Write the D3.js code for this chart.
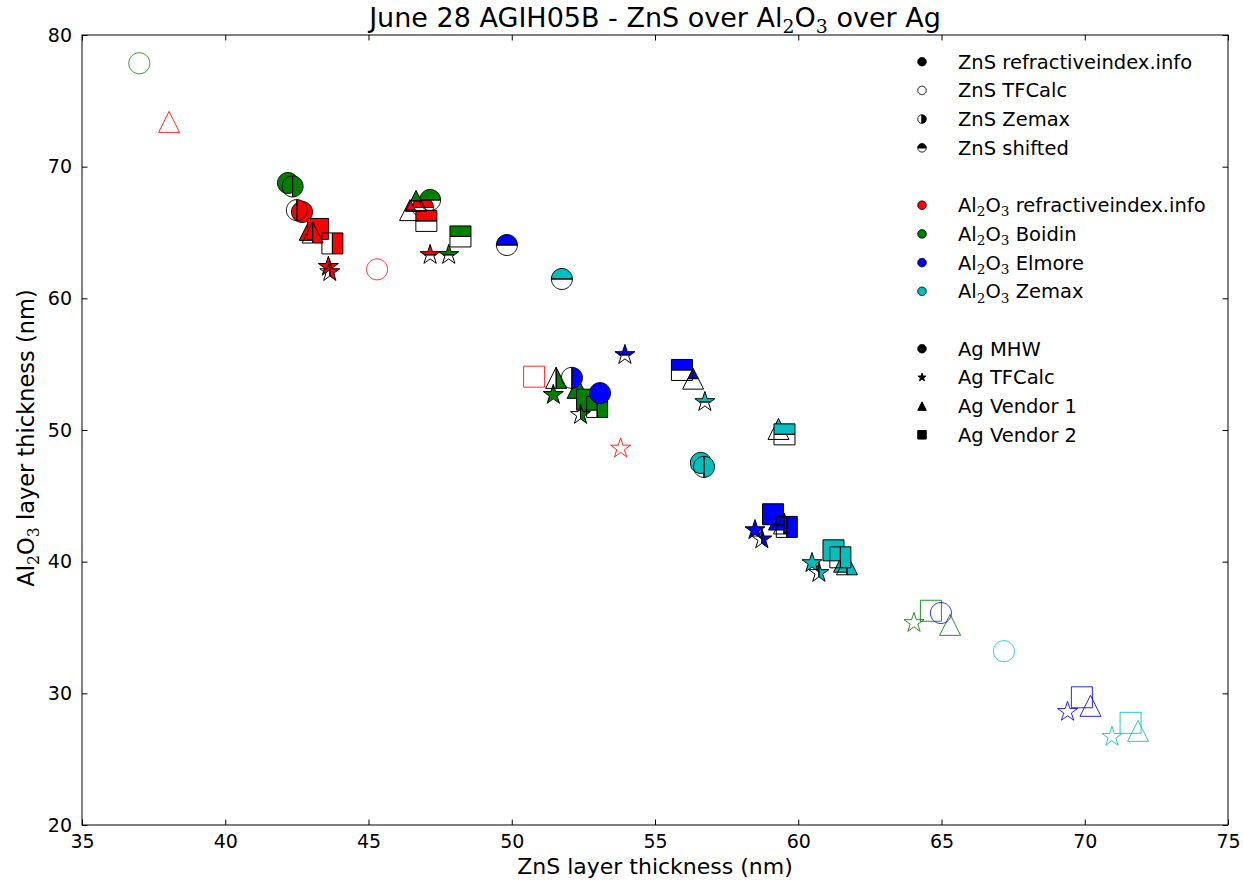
<!DOCTYPE html>
<html><head><meta charset="utf-8">
<script src="https://cdn.jsdelivr.net/npm/d3@7"></script>
<style>body{margin:0;background:#fff}</style>
</head><body>
<svg id="chart" width="1243" height="886"></svg>
<script>
// ---------- data ----------
const xTicks = [35, 40, 45, 50, 55, 60, 65, 70, 75];
const yTicks = [20, 30, 40, 50, 60, 70, 80];
const al2o3Models = ["refractiveindex.info", "Boidin", "Elmore", "Zemax"];
const al2o3Colors = ["#ff0000", "#008000", "#0000ff", "#00bfbf"];
const znsModels = ["refractiveindex.info", "TFCalc", "Zemax", "shifted"];
const znsFill = ["full", "none", "right", "top"];
const agModels = ["MHW", "TFCalc", "Vendor 1", "Vendor 2"];
const agMarkers = ["circle", "star", "triangle", "square"];

// each array: 4 Al2O3 models (red, green, blue, cyan) x 4 Ag models (MHW, TFCalc, Vendor 1, Vendor 2)
const znsRefinfoZnS = [42.68, 43.60, 42.95, 43.24,  42.19, 51.45, 52.30, 52.63,  53.08, 58.49, 59.33, 59.12,  56.60, 60.48, 61.60, 61.23];
const znsRefinfoAl  = [66.56, 62.40, 65.20, 65.27,  68.76, 52.67, 53.20, 52.30,  52.80, 42.40, 43.20, 43.60,  47.50, 39.90, 40.00, 40.86];
const znsTfcalcZnS  = [45.30, 53.80, 38.04, 50.78,  37.00, 64.04, 65.30, 64.63,  64.98, 69.40, 70.20, 69.90,  67.18, 70.95, 71.86, 71.60];
const znsTfcalcAl   = [62.20, 48.60, 73.40, 54.05,  77.85, 35.35, 35.20, 36.27,  36.10, 28.60, 29.05, 29.70,  33.20, 26.70, 27.15, 27.76];
const znsZemaxZnS   = [42.50, 43.65, 43.05, 43.74,  42.35, 52.40, 51.55, 52.98,  52.10, 58.73, 59.50, 59.60,  56.71, 60.72, 61.70, 61.47];
const znsZemaxAl    = [66.70, 62.00, 65.00, 64.17,  68.50, 51.15, 53.96, 51.75,  53.96, 41.70, 42.90, 42.64,  47.20, 39.15, 39.80, 40.33];
const znsShiftedZnS = [46.90, 47.15, 46.45, 47.02,  47.15, 47.80, 46.66, 48.21,  49.83, 53.95, 56.33, 55.94,  51.75, 56.74, 59.31, 59.52];
const znsShiftedAl  = [66.90, 63.30, 66.70, 65.88,  67.47, 63.30, 67.40, 64.70,  64.05, 55.70, 53.90, 54.56,  61.47, 52.13, 50.08, 49.67];

const znsSeriesX = [znsRefinfoZnS, znsTfcalcZnS, znsZemaxZnS, znsShiftedZnS];
const znsSeriesY = [znsRefinfoAl, znsTfcalcAl, znsZemaxAl, znsShiftedAl];

// ---------- layout ----------
const svg = d3.select("#chart");
const L = 82, R = 1228, T = 35, B = 825;
const x = d3.scaleLinear().domain([35, 75]).range([L, R]);
const y = d3.scaleLinear().domain([20, 80]).range([B, T]);
const FONT = "DejaVu Sans, Liberation Sans, sans-serif";
const MS = 21;

// ---------- marker geometry ----------
function shapePoly(kind, s) {
  const h = s / 2;
  if (kind === "circle") {
    const pts = [];
    for (let i = 0; i < 72; i++) { const a = i / 72 * 2 * Math.PI; pts.push([h * Math.cos(a), h * Math.sin(a)]); }
    return pts;
  }
  if (kind === "square") return [[-h, -h], [h, -h], [h, h], [-h, h]];
  if (kind === "triangle") return [[0, -h], [h, h], [-h, h]];
  if (kind === "star") {
    const pts = [], r = h * 0.381966;
    for (let i = 0; i < 10; i++) {
      const a = -Math.PI / 2 + i * Math.PI / 5, rr = i % 2 === 0 ? h : r;
      pts.push([rr * Math.cos(a), rr * Math.sin(a)]);
    }
    return pts;
  }
}
function clipHalf(poly, f) {
  const out = [];
  for (let i = 0; i < poly.length; i++) {
    const a = poly[i], b = poly[(i + 1) % poly.length];
    const fa = f(a), fb = f(b);
    if (fa >= 0) out.push(a);
    if ((fa >= 0) !== (fb >= 0)) {
      const t = fa / (fa - fb);
      out.push([a[0] + t * (b[0] - a[0]), a[1] + t * (b[1] - a[1])]);
    }
  }
  return out;
}
const toPath = pts => "M" + pts.map(p => p[0].toFixed(2) + "," + p[1].toFixed(2)).join("L") + "Z";

function drawMarker(g, cx, cy, kind, fill, color, size, edge) {
  const gg = g.append("g").attr("transform", `translate(${cx},${cy})`);
  const poly = shapePoly(kind, size);
  const sw = 1;
  if (fill === "full") {
    gg.append("path").attr("d", toPath(poly)).attr("fill", color).attr("stroke", edge).attr("stroke-width", sw).attr("stroke-linejoin", "miter");
  } else if (fill === "none") {
    gg.append("path").attr("d", toPath(poly)).attr("fill", "none").attr("stroke", color).attr("stroke-opacity", 0.85).attr("stroke-width", sw).attr("stroke-linejoin", "miter");
  } else if (fill === "hollowBlack") {
    gg.append("path").attr("d", toPath(poly)).attr("fill", "#fff").attr("stroke", edge).attr("stroke-width", sw);
  } else {
    const fIn = fill === "right" ? (p => p[0]) : (p => -p[1]);
    const fOut = fill === "right" ? (p => -p[0]) : (p => p[1]);
    gg.append("path").attr("d", toPath(clipHalf(poly, fIn))).attr("fill", color).attr("stroke", edge).attr("stroke-width", sw).attr("stroke-linejoin", "miter");
    gg.append("path").attr("d", toPath(clipHalf(poly, fOut))).attr("fill", "none").attr("stroke", edge).attr("stroke-width", sw).attr("stroke-linejoin", "miter");
  }
}

// ---------- rich text helper (sub-scripts) ----------
function richText(sel, parts, fs) {
  parts.forEach(p => {
    if (p.sub) {
      sel.append("tspan").attr("font-family", "DejaVu Serif, Liberation Serif, serif")
        .attr("font-size", fs * 0.7).attr("dy", fs * 0.22).text(p.t);
    } else {
      const ts = sel.append("tspan").text(p.t);
      if (p.after) ts.attr("dy", -fs * 0.22);
    }
  });
}
const AL2O3 = [{t: "Al"}, {t: "2", sub: true}, {t: "O", after: true}, {t: "3", sub: true}];

// ---------- background ----------
svg.append("rect").attr("x", 0).attr("y", 0).attr("width", 1243).attr("height", 886).attr("fill", "#fff");

const plot = svg.append("g");
al2o3Colors.forEach((col, ai) => {
  znsFill.forEach((fs, zi) => {
    agMarkers.forEach((mk, gi) => {
      const k = ai * 4 + gi;
      drawMarker(plot, x(znsSeriesX[zi][k]), y(znsSeriesY[zi][k]), mk, fs, col, MS, "#000");
    });
  });
});

// frame
svg.append("rect").attr("x", L).attr("y", T).attr("width", R - L).attr("height", B - T)
  .attr("fill", "none").attr("stroke", "#000").attr("stroke-width", 1);

const TL = 5.5;
const axB = svg.append("g").attr("transform", `translate(0,${B})`).call(d3.axisBottom(x).tickValues(xTicks).tickSizeInner(-TL).tickSizeOuter(0).tickPadding(10));
const axT = svg.append("g").attr("transform", `translate(0,${T})`).call(d3.axisTop(x).tickValues(xTicks).tickSizeInner(-TL).tickSizeOuter(0).tickFormat(""));
const axL = svg.append("g").attr("transform", `translate(${L},0)`).call(d3.axisLeft(y).tickValues(yTicks).tickSizeInner(-TL).tickSizeOuter(0).tickPadding(10));
const axR = svg.append("g").attr("transform", `translate(${R},0)`).call(d3.axisRight(y).tickValues(yTicks).tickSizeInner(-TL).tickSizeOuter(0).tickFormat(""));
[axB, axT, axL, axR].forEach(a => {
  a.select(".domain").remove();
  a.selectAll("text").attr("font-family", FONT).attr("font-size", 19).attr("fill", "#000");
  a.selectAll("line").attr("stroke", "#000");
});

// title & labels
const TFS = 27;
const title = svg.append("text").attr("x", (L + R) / 2).attr("y", 27).attr("text-anchor", "middle")
  .attr("font-family", FONT).attr("font-size", TFS).attr("fill", "#000");
richText(title, [{t: "June 28 AGIH05B - ZnS over "}, ...AL2O3, {t: " over Ag", after: true}], TFS);

svg.append("text").attr("x", (L + R) / 2).attr("y", 874).attr("text-anchor", "middle")
  .attr("font-family", FONT).attr("font-size", 22).attr("fill", "#000").text("ZnS layer thickness (nm)");

const ylab = svg.append("text").attr("transform", `translate(34,${(T + B) / 2 + 8}) rotate(-90)`).attr("text-anchor", "middle")
  .attr("font-family", FONT).attr("font-size", 22.5).attr("fill", "#000");
richText(ylab, [...AL2O3, {t: " layer thickness (nm)", after: true}], 22.5);

// ---------- legend ----------
const legendRows = [
  {label: [{t: "ZnS " + znsModels[0]}], kind: "circle", fill: "full", color: "#000"},
  {label: [{t: "ZnS " + znsModels[1]}], kind: "circle", fill: "hollowBlack", color: "#000"},
  {label: [{t: "ZnS " + znsModels[2]}], kind: "circle", fill: "right", color: "#000"},
  {label: [{t: "ZnS " + znsModels[3]}], kind: "circle", fill: "top", color: "#000"},
  null,
  ...al2o3Models.map((m, i) => ({label: [...AL2O3, {t: " " + m, after: true}], kind: "circle", fill: "full", color: al2o3Colors[i]})),
  null,
  ...agModels.map((m, i) => ({label: [{t: "Ag " + m}], kind: agMarkers[i], fill: "full", color: "#000"}))
];
const leg = svg.append("g");
legendRows.forEach((r, i) => {
  if (!r) return;
  const ly = 61.7 + i * 28.7;
  drawMarker(leg, 922, ly, r.kind, r.fill, r.color, 8.5, "#000");
  const t = leg.append("text").attr("x", 958).attr("y", ly + 7).attr("font-family", FONT).attr("font-size", 19.5).attr("fill", "#000");
  richText(t, r.label, 19.5);
});
</script>
</body></html>
